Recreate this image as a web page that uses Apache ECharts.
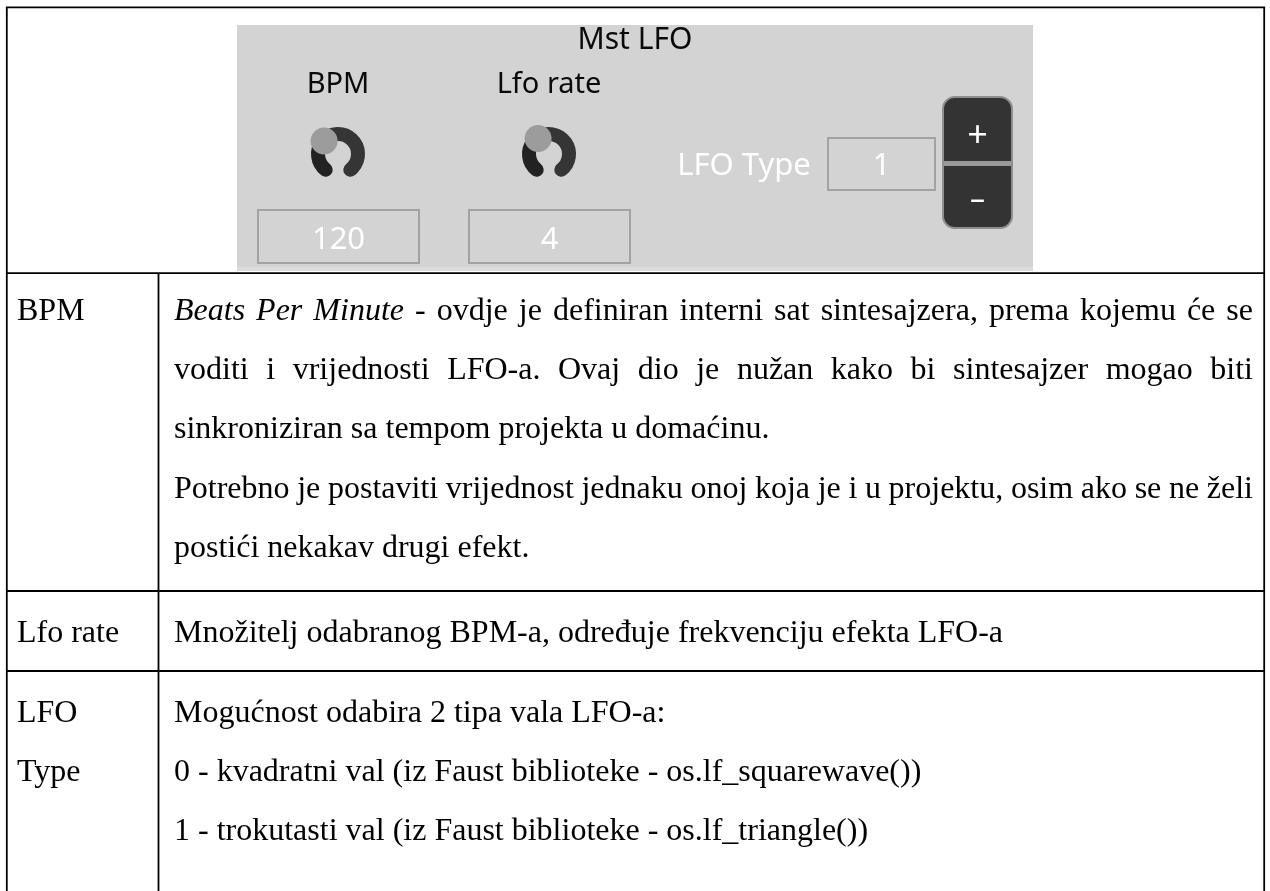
<!DOCTYPE html>
<html><head><meta charset="utf-8">
<script src="https://cdn.jsdelivr.net/npm/echarts@6/dist/echarts.min.js"></script>
<style>html,body{margin:0;padding:0;background:#fff}#c{width:1270px;height:891px}</style>
</head><body><div id="c"></div>
<script>
// ---------- content ----------
const panelTitle = "Mst LFO";
const knobLabels = ["BPM", "Lfo rate"];
const knobValues = ["120", "4"];
const lfoTypeLabel = "LFO Type";
const lfoTypeValue = "1";
const stepperSymbols = ["+", "–"];

const rowLabels = [["BPM"], ["Lfo rate"], ["LFO", "Type"]];
const row1Lines = [
  "*Beats Per Minute* - ovdje je definiran interni sat sintesajzera, prema kojemu će se",
  "voditi i vrijednosti LFO-a. Ovaj dio je nužan kako bi sintesajzer mogao biti",
  "sinkroniziran sa tempom projekta u domaćinu.",
  "Potrebno je postaviti vrijednost jednaku onoj koja je i u projektu, osim ako se ne želi",
  "postići nekakav drugi efekt."
];
const row1Justify = [true, true, false, true, false];
const row1NewPara = [false, false, false, true, false];
const row2Lines = ["Množitelj odabranog BPM-a, određuje frekvenciju efekta LFO-a"];
const row3Lines = [
  "Mogućnost odabira 2 tipa vala LFO-a:",
  "0 - kvadratni val (iz Faust biblioteke - os.lf_squarewave())",
  "1 - trokutasti val (iz Faust biblioteke - os.lf_triangle())"
];
const row3NewPara = [false, true, true];

// ---------- layout / style ----------
const FS = 32;
const SERIF = '"Liberation Serif", "Times New Roman", serif';
const SANS = '"Noto Sans", "Open Sans", sans-serif';
const LINE = 58.8, PARA = 1.5, PARA3 = 0;
const T = { left: 6.8, right: 1264.2, top: 7.4, bottom: 900, colX: 158.5,
            rows: [273.2, 591, 671] };
const col1X = 17, col2X = 174, col2R = 1253;
const firstMid = [312, 634, 714];

const mctx = document.createElement('canvas').getContext('2d');
function fontOf(it) { return (it ? 'italic ' : '') + FS + 'px ' + SERIF; }
function measure(t, it) { mctx.font = fontOf(it); return mctx.measureText(t).width; }
function tokens(line) {
  const out = [];
  line.split('*').forEach((p, i) => {
    p.split(' ').forEach(w => { if (w) out.push({ t: w, it: i % 2 === 1 }); });
  });
  return out;
}
const g = [];
function textAt(txt, x, mid, it, align) {
  g.push({ type: 'text', x: x, y: mid, silent: true,
    style: { text: txt, font: fontOf(it), fill: '#000', textAlign: align || 'left', textVerticalAlign: 'middle' } });
}
function layLine(line, mid, justify) {
  const toks = tokens(line);
  const ws = toks.map(k => measure(k.t, k.it));
  const total = ws.reduce((a, b) => a + b, 0);
  const gap = justify && toks.length > 1 ? (col2R - col2X - total) / (toks.length - 1) : measure(' ', false);
  let x = col2X;
  toks.forEach((k, i) => { textAt(k.t, x, mid, k.it); x += ws[i] + gap; });
}

// table lines
const lw = 1.8;
function ln(x1, y1, x2, y2) { g.push({ type: 'line', silent: true, shape: { x1, y1, x2, y2 }, style: { stroke: '#000', lineWidth: lw } }); }
ln(T.left - 0.9, T.top, T.right + 0.9, T.top);
ln(T.left, T.top, T.left, T.bottom);
ln(T.right, T.top, T.right, T.bottom);
T.rows.forEach(y => ln(T.left, y, T.right, y));
ln(T.colX, T.rows[0], T.colX, T.bottom);

// row texts
let m = firstMid[0];
row1Lines.forEach((l, i) => { if (i > 0) m += LINE + (row1NewPara[i] ? PARA : 0); layLine(l, m, row1Justify[i]); });
layLine(row2Lines[0], firstMid[1], false);
m = firstMid[2];
row3Lines.forEach((l, i) => { if (i > 0) m += LINE + (row3NewPara[i] ? PARA3 : 0); layLine(l, m, false); });
rowLabels.forEach((lab, r) => lab.forEach((t, j) => textAt(t, col1X, firstMid[r] + j * LINE, false)));

// ---------- embedded UI panel ----------
const P = { x: 237, y: 25, w: 796, h: 246 };
g.push({ type: 'rect', silent: true, shape: { x: P.x, y: P.y, width: P.w, height: P.h }, style: { fill: '#d3d3d3' } });
g.push({ type: 'rect', silent: true, shape: { x: P.x, y: P.y + P.h - 4, width: P.w, height: 4 }, style: { fill: '#dcdcdc' } });
function sans(txt, cx, cy, size, color, weight) {
  g.push({ type: 'text', x: cx, y: cy, silent: true,
    style: { text: txt, font: (weight || 'normal') + ' ' + size + 'px ' + SANS, fill: color, textAlign: 'center', textVerticalAlign: 'middle' } });
}
sans(panelTitle, P.x + P.w / 2, 40, 30, '#0a0a0a');
const knobCX = [338, 549], knobCY = 154, knobBallDeg = [223, 235];
knobLabels.forEach((t, i) => sans(t, knobCX[i], 85, 29, '#0a0a0a'));
knobCX.forEach((cx, i) => {
  const d2r = Math.PI / 180, r = 20, a0 = 128, a1 = 412, ab = knobBallDeg[i];
  g.push({ type: 'arc', silent: true, shape: { cx, cy: knobCY, r, startAngle: ab * d2r, endAngle: a1 * d2r, clockwise: true },
    style: { fill: null, stroke: '#353535', lineWidth: 14, lineCap: 'round' } });
  g.push({ type: 'arc', silent: true, shape: { cx, cy: knobCY, r, startAngle: a0 * d2r, endAngle: ab * d2r, clockwise: true },
    style: { fill: null, stroke: '#222', lineWidth: 14, lineCap: 'round' } });
  g.push({ type: 'circle', silent: true, shape: { cx: cx + 19 * Math.cos(ab * d2r), cy: knobCY + 19 * Math.sin(ab * d2r), r: 13.5 },
    style: { fill: '#9c9c9c' } });
});
const valBoxes = [[258, 210, 161, 53], [469, 210, 161, 53]];
valBoxes.forEach((bx, i) => {
  g.push({ type: 'rect', silent: true, shape: { x: bx[0], y: bx[1], width: bx[2], height: bx[3] }, style: { fill: null, stroke: '#a2a2a2', lineWidth: 2 } });
  sans(knobValues[i], bx[0] + bx[2] / 2, bx[1] + bx[3] / 2 + 4, 31, '#fff');
});
sans(lfoTypeLabel, 744, 166, 31, '#fff');
g.push({ type: 'rect', silent: true, shape: { x: 828, y: 138, width: 107, height: 52 }, style: { fill: null, stroke: '#a2a2a2', lineWidth: 2 } });
sans(lfoTypeValue, 881.5, 166, 31, '#fff');
g.push({ type: 'rect', silent: true, shape: { x: 943, y: 97, width: 69, height: 131, r: 12 }, style: { fill: '#333', stroke: '#8e8e8e', lineWidth: 2 } });
g.push({ type: 'rect', silent: true, shape: { x: 944, y: 161, width: 67, height: 5 }, style: { fill: '#9a9a9a' } });
sans(stepperSymbols[0], 977.5, 137, 36, '#fff');
sans(stepperSymbols[1], 977.5, 200, 30, '#fff');

const chart = echarts.init(document.getElementById('c'), null, { renderer: 'canvas' });
chart.setOption({ animation: false, backgroundColor: '#fff', graphic: { elements: g } });
</script></body></html>
